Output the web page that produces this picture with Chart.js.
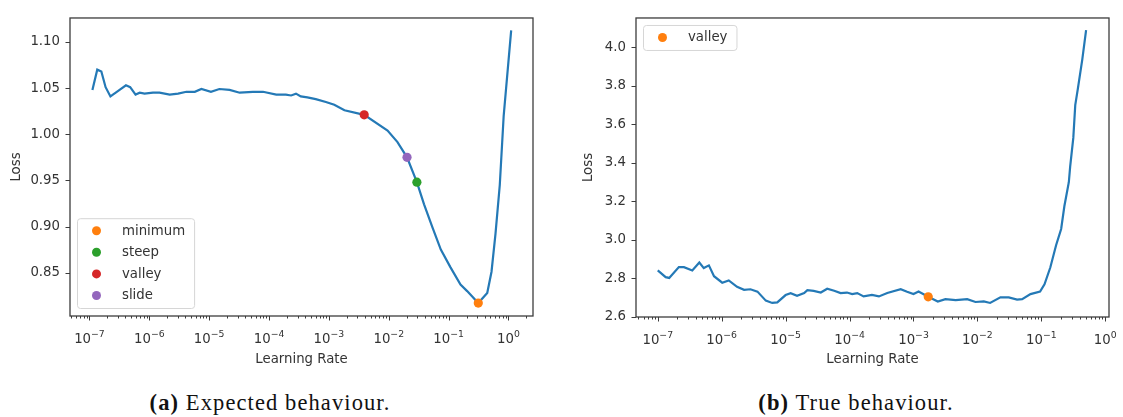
<!DOCTYPE html>
<html>
<head>
<meta charset="utf-8">
<script src="https://cdn.jsdelivr.net/npm/chart.js@4.4.1/dist/chart.umd.min.js"></script>
<style>
  html, body { margin: 0; padding: 0; background: #fff; width: 1123px; height: 417px; overflow: hidden; }
  canvas { position: absolute; top: 0; }
  #chartA { left: 0; }
  #chartB { left: 560px; }
  .cap { position: absolute; top: 390px; transform: translateX(-50%); font-family: "Liberation Serif", "DejaVu Serif", serif; font-size: 22.5px; letter-spacing: 1.1px; color: #111; white-space: nowrap; }
  .cap b { font-weight: bold; }
</style>
</head>
<body>
<canvas id="chartA" width="545" height="370"></canvas>
<canvas id="chartB" width="563" height="370"></canvas>
<div class="cap" style="left:270px"><b>(a)</b> Expected behaviour.</div>
<div class="cap" style="left:856px"><b>(b)</b> True behaviour.</div>

<script>
// ---- (a) learning-rate finder run: loss vs learning rate ----
const lrA = [1.12e-7, 1.35e-7, 1.58e-7, 1.86e-7, 2.24e-7, 3.02e-7, 4.07e-7, 4.79e-7, 5.89e-7, 6.92e-7,
  8.32e-7, 1.15e-6, 1.48e-6, 2.19e-6, 3.02e-6, 4.17e-6, 5.75e-6, 7.41e-6, 1.07e-5, 1.48e-5,
  2.19e-5, 3.24e-5, 5.37e-5, 7.94e-5, 1.32e-4, 1.91e-4, 2.34e-4, 2.82e-4, 3.39e-4, 4.37e-4,
  6.03e-4, 8.91e-4, 1.23e-3, 1.82e-3, 3.89e-3, 9.55e-3, 1.40e-2, 2.02e-2, 2.95e-2, 3.89e-2,
  5.37e-2, 7.41e-2, 1.07e-1, 1.58e-1, 2.04e-1, 3.13e-1, 4.42e-1, 5.21e-1, 6.07e-1, 7.16e-1,
  8.32e-1, 1.11];
const lossA = [1.048, 1.070, 1.068, 1.051, 1.041, 1.047, 1.053, 1.051, 1.043, 1.045,
  1.044, 1.045, 1.045, 1.043, 1.044, 1.046, 1.046, 1.049, 1.046, 1.049,
  1.048, 1.045, 1.046, 1.046, 1.043, 1.043, 1.042, 1.044, 1.041, 1.040,
  1.038, 1.035, 1.032, 1.026, 1.021, 1.004, 0.9915, 0.975, 0.948, 0.924,
  0.899, 0.875, 0.856, 0.837, 0.830, 0.817, 0.828, 0.851, 0.892, 0.945,
  1.020, 1.1125];
// suggested learning rates
const suggestNamesA = ['minimum', 'steep', 'valley', 'slide'];
const suggestLrA = [3.13e-1, 2.95e-2, 3.89e-3, 2.02e-2];
const suggestLossA = [0.817, 0.948, 1.021, 0.975];
const suggestColorsA = ['#ff7f0e', '#2ca02c', '#d62728', '#9467bd'];
const yTicksA = [0.85, 0.90, 0.95, 1.00, 1.05, 1.10];

// ---- (b) learning-rate finder run: loss vs learning rate ----
const lrB = [1.00e-7, 1.33e-7, 1.51e-7, 2.14e-7, 2.57e-7, 3.47e-7, 4.47e-7, 5.25e-7, 6.31e-7, 7.59e-7,
  1.02e-6, 1.29e-6, 1.74e-6, 2.24e-6, 2.82e-6, 3.63e-6, 4.90e-6, 6.17e-6, 7.41e-6, 1.00e-5,
  1.20e-5, 1.51e-5, 1.95e-5, 2.19e-5, 2.75e-5, 3.55e-5, 4.47e-5, 5.75e-5, 7.24e-5, 9.12e-5,
  1.10e-4, 1.32e-4, 1.66e-4, 2.24e-4, 2.88e-4, 3.89e-4, 6.31e-4, 7.94e-4, 1.00e-3, 1.20e-3,
  1.70e-3, 2.40e-3, 3.16e-3, 4.57e-3, 6.92e-3, 9.33e-3, 1.26e-2, 1.58e-2, 2.29e-2, 3.09e-2,
  4.17e-2, 5.01e-2, 6.76e-2, 9.55e-2, 0.112, 0.138, 0.170, 0.204, 0.229, 0.269,
  0.282, 0.316, 0.339, 0.372, 0.437, 0.501];
const lossB = [2.842, 2.807, 2.803, 2.859, 2.859, 2.842, 2.883, 2.854, 2.868, 2.812,
  2.778, 2.790, 2.757, 2.741, 2.744, 2.732, 2.685, 2.673, 2.676, 2.714,
  2.724, 2.710, 2.724, 2.739, 2.736, 2.727, 2.747, 2.736, 2.724, 2.727,
  2.719, 2.724, 2.707, 2.715, 2.707, 2.725, 2.744, 2.731, 2.719, 2.732,
  2.705, 2.680, 2.693, 2.688, 2.693, 2.678, 2.681, 2.673, 2.702, 2.702,
  2.690, 2.693, 2.719, 2.732, 2.770, 2.857, 2.973, 3.057, 3.175, 3.300,
  3.380, 3.530, 3.700, 3.785, 3.938, 4.090];
const suggestNamesB = ['valley'];
const suggestLrB = [1.70e-3];
const suggestLossB = [2.705];
const suggestColorsB = ['#ff7f0e'];
const yTicksB = [2.6, 2.8, 3.0, 3.2, 3.4, 3.6, 3.8, 4.0];

// shared x tick decades
const xDecades = [1e-7, 1e-6, 1e-5, 1e-4, 1e-3, 1e-2, 1e-1, 1e0];

const FONT = 'DejaVu Sans';
const TEXT = '#333333';
const AXIS = '#3c3c3c';
const LINE = '#2479b6';
const BASE_PX = 13.3;   // tick / label font size
const EXP_PX = 9.3;     // exponent font size

// spines, major and minor tick marks, and 10^n tick labels
const mplAxes = {
  id: 'mplAxes',
  afterDatasetsDraw(chart) {
    const { ctx, chartArea: a, scales: { x, y } } = chart;
    ctx.save();
    ctx.strokeStyle = AXIS;
    ctx.lineWidth = 1;
    ctx.beginPath();
    x.ticks.forEach(t => {
      const px = Math.round(x.getPixelForValue(t.value)) + 0.5;
      ctx.moveTo(px, a.bottom); ctx.lineTo(px, a.bottom + 4.5);
    });
    const lo = Math.floor(Math.log10(x.min)), hi = Math.ceil(Math.log10(x.max));
    for (let d = lo; d <= hi; d++) {
      for (let m = 2; m <= 9; m++) {
        const v = m * Math.pow(10, d);
        if (v < x.min || v > x.max) continue;
        const px = Math.round(x.getPixelForValue(v)) + 0.5;
        ctx.moveTo(px, a.bottom); ctx.lineTo(px, a.bottom + 2.5);
      }
    }
    y.ticks.forEach(t => {
      const py = Math.round(y.getPixelForValue(t.value)) + 0.5;
      ctx.moveTo(a.left, py); ctx.lineTo(a.left - 4.5, py);
    });
    ctx.stroke();
    ctx.lineWidth = 1.3;
    ctx.strokeRect(a.left, a.top, a.right - a.left, a.bottom - a.top);

    // decade labels: "10" with a raised exponent
    ctx.fillStyle = TEXT;
    ctx.textBaseline = 'alphabetic';
    ctx.textAlign = 'left';
    const baseFont = BASE_PX + 'px "' + FONT + '"';
    const expFont = EXP_PX + 'px "' + FONT + '"';
    const baseY = a.bottom + 26.5;
    x.ticks.forEach(t => {
      const e = Math.round(Math.log10(t.value));
      const expText = e < 0 ? '\u2212' + (-e) : String(e);
      ctx.font = baseFont;
      const wBase = ctx.measureText('10').width;
      ctx.font = expFont;
      const wExp = ctx.measureText(expText).width;
      const left = x.getPixelForValue(t.value) - (wBase + wExp) / 2;
      ctx.font = baseFont;
      ctx.fillText('10', left, baseY);
      ctx.font = expFont;
      ctx.fillText(expText, left + wBase, baseY - 6);
    });
    ctx.restore();
  }
};

// boxed legend inside the axes, listing the marker datasets
const mplLegend = {
  id: 'mplLegend',
  afterDraw(chart, args, opts) {
    const { ctx, chartArea: a } = chart;
    const items = chart.data.datasets.filter(d => d.showLine === false);
    if (!items.length) return;
    ctx.save();
    ctx.font = BASE_PX + 'px "' + FONT + '"';
    const rowH = 21.6, padV = 12.5, textX = 45, markX = 19.5;
    const w = textX + Math.max(...items.map(d => ctx.measureText(d.label).width)) + 9;
    const h = padV * 2 + rowH * (items.length - 1);
    const left = a.left + opts.dx;
    const top = opts.corner === 'lower' ? a.bottom - opts.dy - h : a.top + opts.dy;
    ctx.beginPath();
    ctx.roundRect(left + 0.5, top + 0.5, w, h, 3);
    ctx.fillStyle = 'rgba(255,255,255,0.85)';
    ctx.fill();
    ctx.strokeStyle = '#d6d6d6';
    ctx.lineWidth = 1;
    ctx.stroke();
    items.forEach((d, i) => {
      const cy = top + padV + i * rowH;
      ctx.beginPath();
      ctx.arc(left + markX, cy, 4.5, 0, Math.PI * 2);
      ctx.fillStyle = d.backgroundColor;
      ctx.fill();
      ctx.fillStyle = TEXT;
      ctx.textBaseline = 'middle';
      ctx.textAlign = 'left';
      ctx.fillText(d.label, left + textX, cy + 0.5);
    });
    ctx.restore();
  }
};

function buildChart(id, cfg) {
  const datasets = [{
    label: 'loss',
    data: cfg.lr.map((v, i) => ({ x: v, y: cfg.loss[i] })),
    borderColor: LINE,
    borderWidth: 2.2,
    pointRadius: 0,
    tension: 0,
    fill: false,
    order: 10
  }];
  cfg.names.forEach((n, i) => datasets.push({
    label: n,
    data: [{ x: cfg.sLr[i], y: cfg.sLoss[i] }],
    showLine: false,
    pointRadius: 4.6,
    pointHoverRadius: 4.6,
    pointBorderWidth: 0,
    backgroundColor: cfg.colors[i],
    borderColor: cfg.colors[i],
    order: 1
  }));
  return new Chart(document.getElementById(id), {
    type: 'line',
    data: { datasets },
    plugins: [mplAxes, mplLegend],
    options: {
      responsive: false,
      animation: false,
      layout: { padding: cfg.padding },
      plugins: {
        legend: { display: false },
        tooltip: { enabled: false },
        mplLegend: cfg.legend
      },
      scales: {
        x: {
          type: 'logarithmic',
          min: cfg.xMin,
          max: cfg.xMax,
          grid: { display: false, drawTicks: false },
          border: { display: false },
          afterBuildTicks: s => { s.ticks = xDecades.map(v => ({ value: v })); },
          afterFit: s => { s.height = cfg.xHeight; },
          ticks: { display: false },
          title: {
            display: true, text: 'Learning Rate', color: TEXT,
            font: { family: FONT, size: BASE_PX }, padding: { top: 0, bottom: 2 }
          }
        },
        y: {
          type: 'linear',
          min: cfg.yMin,
          max: cfg.yMax,
          grid: { display: false, drawTicks: false },
          border: { display: false },
          afterBuildTicks: s => { s.ticks = cfg.yTicks.map(v => ({ value: v })); },
          afterFit: s => { s.width = cfg.yWidth; },
          ticks: {
            padding: 10, color: TEXT, font: { family: FONT, size: BASE_PX },
            callback: v => v.toFixed(cfg.yDigits)
          },
          title: {
            display: true, text: 'Loss', color: TEXT,
            font: { family: FONT, size: BASE_PX }, padding: { top: cfg.yTitlePad, bottom: 0 }
          }
        }
      }
    }
  });
}

buildChart('chartA', {
  lr: lrA, loss: lossA,
  names: suggestNamesA, sLr: suggestLrA, sLoss: suggestLossA, colors: suggestColorsA,
  yTicks: yTicksA, yDigits: 2,
  xMin: 4.73e-8, xMax: 2.57, yMin: 0.803, yMax: 1.126,
  padding: { left: 0, top: 6, right: 12, bottom: 0 },
  xHeight: 54, yWidth: 70, yTitlePad: 9,
  legend: { corner: 'lower', dx: 7, dy: 8 }
});

buildChart('chartB', {
  lr: lrB, loss: lossB,
  names: suggestNamesB, sLr: suggestLrB, sLoss: suggestLossB, colors: suggestColorsB,
  yTicks: yTicksB, yDigits: 1,
  xMin: 4.57e-8, xMax: 1.143, yMin: 2.6, yMax: 4.153,
  padding: { left: 0, top: 11, right: 14, bottom: 0 },
  xHeight: 53, yWidth: 76, yTitlePad: 21,
  legend: { corner: 'upper', dx: 7, dy: 7 }
});
</script>
</body>
</html>
